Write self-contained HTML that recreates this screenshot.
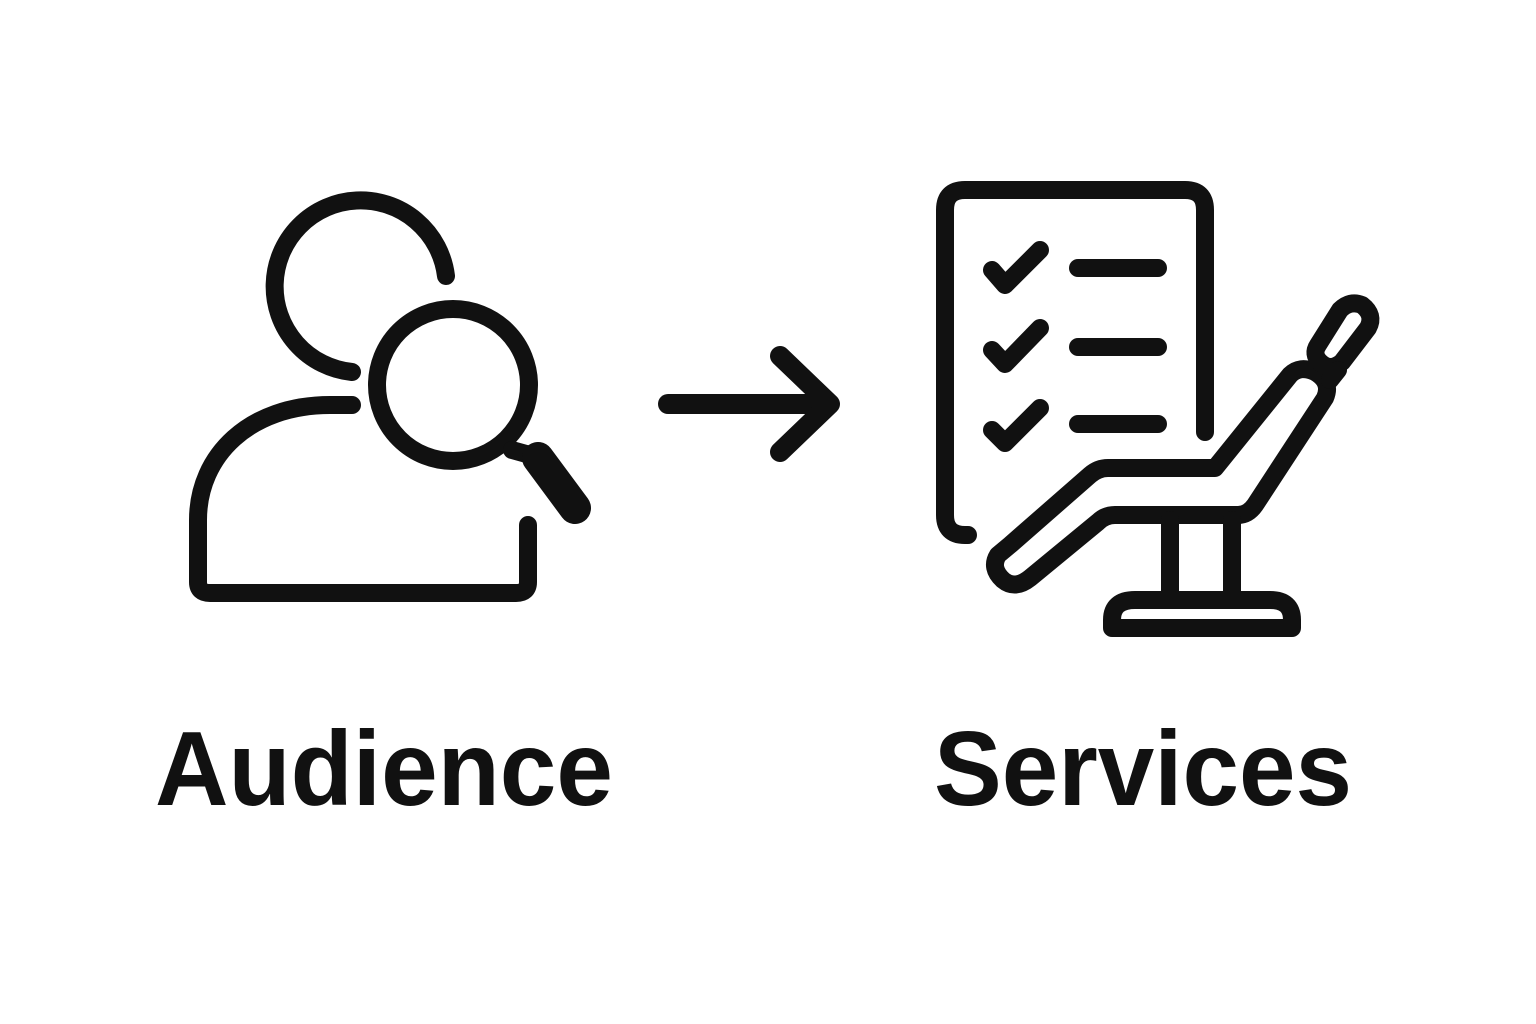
<!DOCTYPE html>
<html><head><meta charset="utf-8"><style>
html,body{margin:0;padding:0;background:#fff;}
svg{display:block;}
</style></head><body>
<svg width="1536" height="1024" viewBox="0 0 1536 1024" xmlns="http://www.w3.org/2000/svg">
<g fill="none" stroke="#111" stroke-width="18" stroke-linecap="round" stroke-linejoin="round">
<path d="M352 372 A86 86 0 1 1 446 276"/>
<path d="M352 405 L330 405 C250 405 198 455 198 520 L198 582 Q198 593 210 593 L516 593 Q528 593 528 582 L528 525"/>
<circle cx="453" cy="385" r="76"/>
<line x1="512" y1="450" x2="530" y2="455"/>
</g>
<line x1="538" y1="458" x2="575" y2="508" stroke="#111" stroke-width="32" stroke-linecap="round"/>
<g fill="none" stroke="#111" stroke-width="20" stroke-linecap="round" stroke-linejoin="round">
<line x1="668" y1="404" x2="828" y2="404"/>
<polyline points="780,356 830,404 780,452"/>
</g>
<g fill="none" stroke="#111" stroke-width="18" stroke-linecap="round" stroke-linejoin="round">
<path d="M968 535 L965 535 Q945 535 945 515 L945 210 Q945 190 965 190 L1185 190 Q1205 190 1205 210 L1205 432"/>
<polyline points="992,270 1005,285 1040,250"/>
<polyline points="992,350 1005,364 1040,328"/>
<polyline points="992,430 1005,443 1040,408"/>
<line x1="1078" y1="268" x2="1158" y2="268"/>
<line x1="1078" y1="347" x2="1158" y2="347"/>
<line x1="1078" y1="424" x2="1158" y2="424"/>
<path d="M1010 545 L1090 475 Q1098 468 1108 468 L1215 468 L1290 375 Q1300 365 1315 372 Q1332 382 1325 398 L1255 505 Q1248 515 1238 515 L1115 515 Q1105 515 1098 522 L1030 578 Q1015 590 1003 580 Q990 568 998 555 Z"/>
<path d="M1318 345 L1340 310 Q1350 300 1362 305 Q1375 315 1368 328 L1342 362 Q1330 372 1320 362 Q1312 354 1318 345 Z"/>
<line x1="1338" y1="370" x2="1330" y2="380"/>
<line x1="1170" y1="520" x2="1170" y2="598"/>
<line x1="1232" y1="520" x2="1232" y2="598"/>
<path d="M1112 628 L1112 620 Q1112 600 1135 600 L1270 600 Q1292 600 1292 620 L1292 628 Z"/>
</g>
<text x="155" y="805" font-family="Liberation Sans, sans-serif" font-weight="bold" font-size="106" fill="#111" textLength="458" lengthAdjust="spacingAndGlyphs">Audience</text>
<text x="934" y="805" font-family="Liberation Sans, sans-serif" font-weight="bold" font-size="106" fill="#111" textLength="418" lengthAdjust="spacingAndGlyphs">Services</text>
</svg>
</body></html>
